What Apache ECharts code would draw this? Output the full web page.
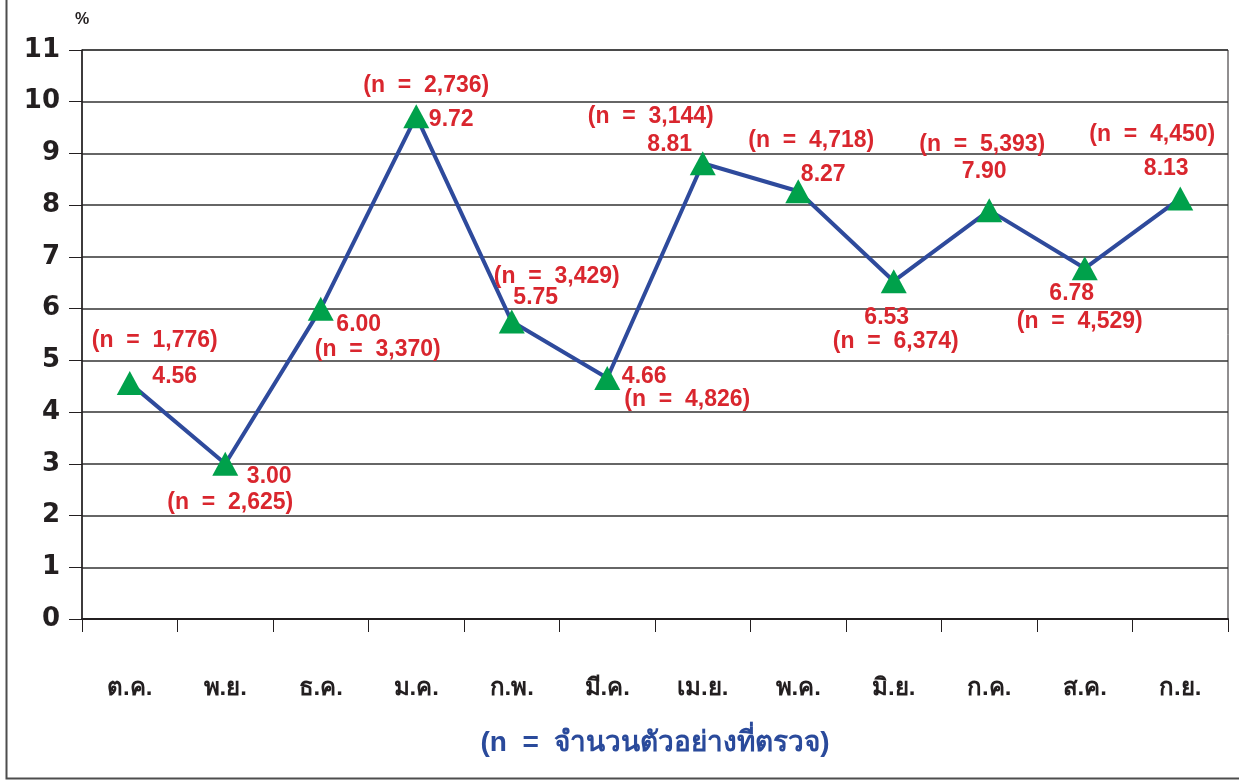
<!DOCTYPE html>
<html>
<head>
<meta charset="utf-8">
<script src="https://cdn.jsdelivr.net/npm/echarts@6/dist/echarts.min.js"></script>
<style>
  html, body { margin: 0; padding: 0; background: #fff; }
  #chart { width: 1239px; height: 782px; }
</style>
</head>
<body>
<div id="chart"></div>
<script>
// data
const months = ['ต.ค.', 'พ.ย.', 'ธ.ค.', 'ม.ค.', 'ก.พ.', 'มี.ค.', 'เม.ย.', 'พ.ค.', 'มิ.ย.', 'ก.ค.', 'ส.ค.', 'ก.ย.']
const rates = [4.56, 3.00, 6.00, 9.72, 5.75, 4.66, 8.81, 8.27, 6.53, 7.90, 6.78, 8.13]
const samples = ['1,776', '2,625', '3,370', '2,736', '3,429', '4,826', '3,144', '4,718', '6,374', '5,393', '4,529', '4,450']
const yTicks = [0, 11, 1] // min, max, interval

// label placement (pixel offsets from each point)
const valueOffsets = [[45, -6], [44, 13], [38, 16], [35, 3], [24, -24], [37, -1],
  [-33, -19], [25, -17], [-7, 36], [-5, -39], [-13, 25], [-14, -30]]
const nOffsets = [[25, -42], [5, 39], [57, 41], [10, -31], [45, -45], [80, 22],
  [-52, -47], [13, -51], [2, 60], [-7, -66], [-5, 53], [-28, -64]]

const red = '#d9262e'
const labelFont = 'Liberation Sans, Arial, Noto Sans, sans-serif'

const myChart = echarts.init(document.getElementById('chart'))

const option = {
  backgroundColor: '#fff',
  animation: false,
  grid: {
    left: 82,
    right: 11,
    top: 50,
    bottom: 163,
    show: true,
    borderColor: '#231f20',
    borderWidth: 1
  },
  graphic: [{
    type: 'rect',
    shape: { x: 6.5, y: -10, width: 1260, height: 788.5 },
    style: { fill: 'none', stroke: '#4d4d4d', lineWidth: 2 },
    silent: true
  }],
  xAxis: {
    type: 'category',
    data: months,
    boundaryGap: true,
    axisLine: { lineStyle: { color: '#231f20', width: 2 } },
    axisTick: { show: true, interval: 0, length: 13, lineStyle: { color: '#231f20', width: 1 } },
    axisLabel: {
      interval: 0,
      margin: 57,
      color: '#231f20',
      fontSize: 24,
      fontWeight: 'bold',
      fontFamily: labelFont
    },
    name: '(n  =  จำนวนตัวอย่างที่ตรวจ)',
    nameLocation: 'middle',
    nameGap: 110,
    nameTextStyle: {
      color: '#2a4a9b',
      fontSize: 28,
      fontWeight: 'bold',
      fontFamily: labelFont
    }
  },
  yAxis: {
    type: 'value',
    min: yTicks[0],
    max: yTicks[1],
    interval: yTicks[2],
    name: '%',
    nameGap: 22,
    nameTextStyle: { color: '#231f20', fontSize: 16, fontWeight: 'bold', fontFamily: labelFont },
    axisLine: { show: true, lineStyle: { color: '#231f20', width: 1.5 } },
    axisTick: { show: true, length: 13, lineStyle: { color: '#231f20' } },
    axisLabel: {
      margin: 22,
      color: '#231f20',
      fontSize: 26,
      fontWeight: 'bold',
      fontFamily: 'DejaVu Sans, sans-serif'
    },
    splitLine: { lineStyle: { color: '#333', width: 1.5 } }
  },
  series: [
    {
      type: 'line',
      data: rates.map((v, i) => ({
        value: v,
        label: { offset: valueOffsets[i] }
      })),
      symbol: 'triangle',
      symbolSize: [26, 24],
      itemStyle: { color: '#00a14b' },
      lineStyle: { color: '#2e4a9c', width: 4 },
      label: {
        show: true,
        position: 'inside',
        formatter: p => p.value.toFixed(2),
        color: red,
        fontSize: 23,
        fontWeight: 'bold',
        fontFamily: labelFont
      },
      z: 3
    },
    {
      type: 'scatter',
      data: rates.map((v, i) => ({
        value: v,
        label: { offset: nOffsets[i] }
      })),
      symbolSize: 1,
      itemStyle: { color: 'rgba(0,0,0,0)', opacity: 1 },
      label: {
        show: true,
        position: 'inside',
        formatter: p => '(n  =  ' + samples[p.dataIndex] + ')',
        color: red,
        fontSize: 23,
        fontWeight: 'bold',
        fontFamily: labelFont
      },
      silent: true,
      z: 4
    }
  ]
}

myChart.setOption(option)
</script>
</body>
</html>
